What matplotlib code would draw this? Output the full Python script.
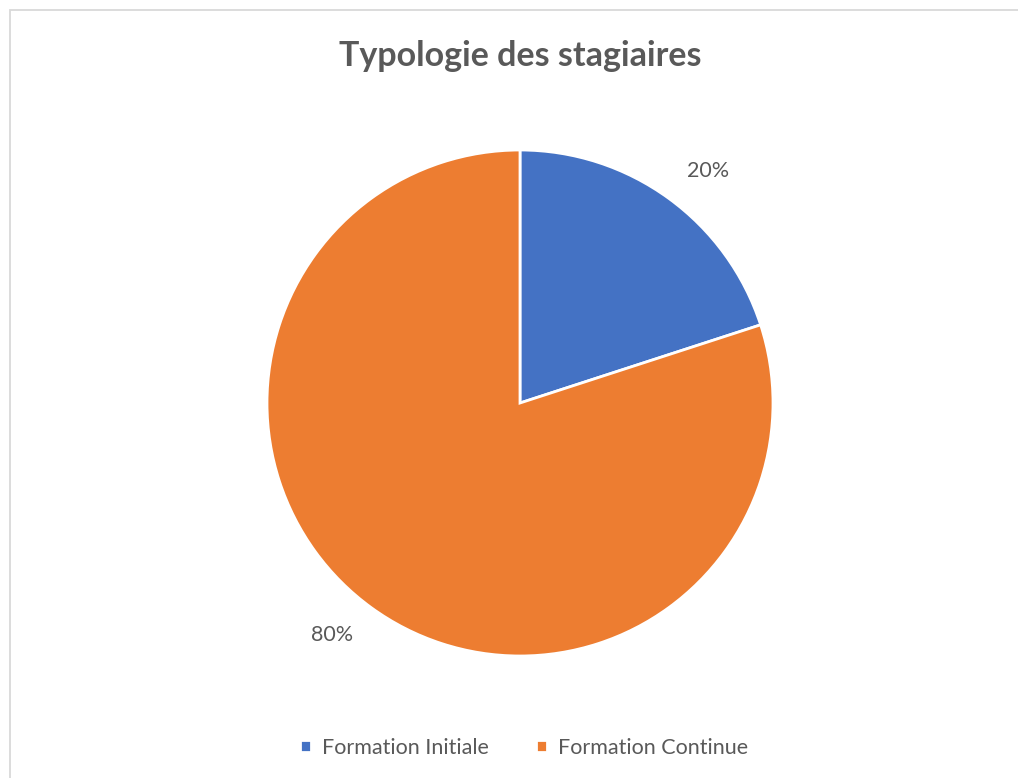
import matplotlib
matplotlib.use("Agg")
import matplotlib.pyplot as plt
import numpy as np
from matplotlib.patches import Rectangle

categories = ["Formation Initiale", "Formation Continue"]
shares = [20, 80]
colors = ["#4472C4", "#ED7D31"]
title = "Typologie des stagiaires"

TEXT_GRAY = "#595959"
plt.rcParams["font.family"] = ["Lato", "DejaVu Sans"]

fig = plt.figure(figsize=(10.18, 7.78), dpi=100)

# chart area border (runs off the right and bottom edges)
fig.patches.append(Rectangle((10 / 1018, -0.05), 1.1, 1 - 9.5 / 778 + 0.05,
                             transform=fig.transFigure, fill=False,
                             edgecolor="#D9D9D9", linewidth=1.3))

ax = fig.add_axes([267 / 1018, 122 / 778, 506 / 1018, 506 / 778])
wedges, texts = ax.pie(
    shares,
    colors=colors,
    startangle=90,
    counterclock=False,
    wedgeprops=dict(edgecolor="white", linewidth=2),
    labels=[f"{v}%" for v in shares],
    labeldistance=1.18,
    textprops=dict(color=TEXT_GRAY, fontsize=15.5),
)
# excel puts the labels a bit further clockwise than the wedge mid-angle
for w, t in zip(wedges, texts):
    ang = np.deg2rad((w.theta1 + w.theta2) / 2 - 3)
    t.set_position((1.18 * np.cos(ang), 1.18 * np.sin(ang)))
    t.set_horizontalalignment("center")
    t.set_verticalalignment("center")
ax.set_xlim(-1, 1)
ax.set_ylim(-1, 1)
ax.set_aspect("equal")

fig.text(520 / 1018, 1 - 56 / 778, title, ha="center", va="center",
         fontsize=24.5, fontweight="bold", color=TEXT_GRAY)

fig.legend(wedges, categories, loc="center", bbox_to_anchor=(524 / 1018, 1 - 748 / 778),
           ncol=2, frameon=False, fontsize=15.5, labelcolor=TEXT_GRAY,
           handlelength=0.5, handleheight=0.5, handletextpad=0.5, columnspacing=2.2)

fig.savefig("out.png", dpi=100)
